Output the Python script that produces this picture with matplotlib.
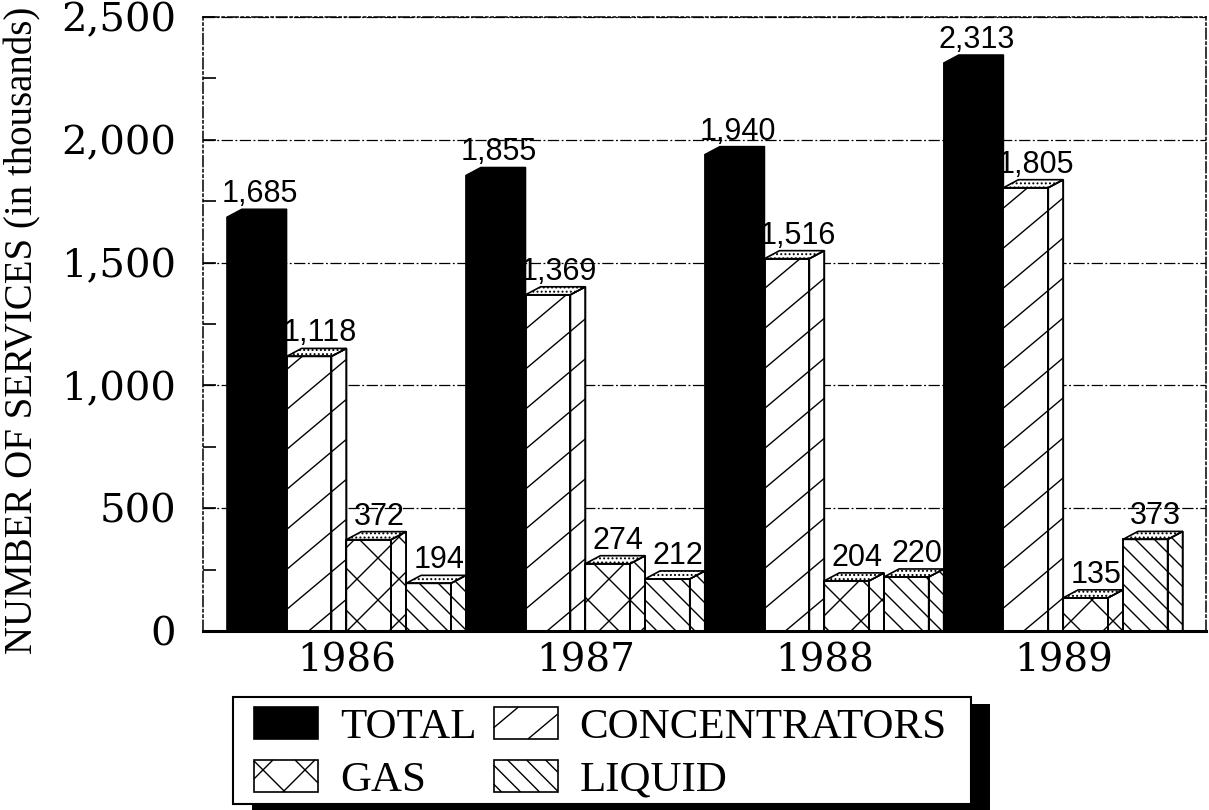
import numpy as np
import matplotlib
matplotlib.use("Agg")
import matplotlib.pyplot as plt
from matplotlib.patches import Polygon, Rectangle
from matplotlib.collections import LineCollection
from matplotlib.legend_handler import HandlerBase
from matplotlib.ticker import MultipleLocator, FuncFormatter
from matplotlib.transforms import IdentityTransform

# ---------------- data ----------------
years = ["1986", "1987", "1988", "1989"]
series_names = ["TOTAL", "CONCENTRATORS", "GAS", "LIQUID"]
total = [1685, 1855, 1940, 2313]
concentrators = [1118, 1369, 1516, 1805]
gas = [372, 274, 204, 135]
liquid = [194, 212, 220, 373]
series_values = [total, concentrators, gas, liquid]

# hatch specs: (angle in degrees, vertical spacing in px); None -> solid black
hatch_specs = [None, [(40, 40)], [(45, 42), (-45, 42)], [(-45, 19)]]

# ---------------- figure ----------------
W, H, DPI = 1209, 810, 100
fig = plt.figure(figsize=(W / DPI, H / DPI), dpi=DPI)
fig.patch.set_facecolor("white")
ax_l, ax_r, ax_t, ax_b = 203, 1206, 17, 631
ax = fig.add_axes([ax_l / W, 1 - ax_b / H, (ax_r - ax_l) / W, (ax_b - ax_t) / H])

n_groups, n_series = len(years), len(series_names)
ax.set_ylim(0, 2500)
ax.set_xlim(-0.40, n_groups * n_series + 0.39)

# pixel scales
p0 = ax.transData.transform((0, 0))
px_x = ax.transData.transform((1, 0))[0] - p0[0]
px_y = ax.transData.transform((0, 1))[1] - p0[1]
DX_PX, DY_PX = 15.0, 8.0
ddx, ddy = DX_PX / px_x, DY_PX / px_y
w = 1.0 - ddx  # front face width in data units

inv = ax.transData.inverted()


def hatch_segments_px(xmin, xmax, ymin, ymax, angle, vspace):
    a = np.deg2rad(angle)
    d = np.array([np.cos(a), np.sin(a)])
    nrm = np.array([-np.sin(a), np.cos(a)])
    perp = vspace * abs(np.cos(a))
    corners = np.array([[xmin, ymin], [xmax, ymin], [xmax, ymax], [xmin, ymax]])
    proj = corners @ nrm
    L = np.hypot(xmax - xmin, ymax - ymin) + 10
    c = corners.mean(axis=0)
    segs = []
    for k in range(int(np.floor(proj.min() / perp)) - 1, int(np.ceil(proj.max() / perp)) + 2):
        base = k * perp * nrm + (c @ d) * d
        segs.append([base - L * d, base + L * d])
    return segs


def add_face(verts, spec, top=False):
    face = Polygon(verts, closed=True, facecolor="white", edgecolor="black", lw=1.2,
                   zorder=2, hatch="...." if top else None)
    ax.add_patch(face)
    if spec:
        vpx = ax.transData.transform(np.array(verts))
        segs = []
        for ang, vs in spec:
            for s in hatch_segments_px(vpx[:, 0].min(), vpx[:, 0].max(),
                                       vpx[:, 1].min(), vpx[:, 1].max(), ang, vs):
                segs.append(inv.transform(np.array(s)))
        lc = LineCollection(segs, colors="black", linewidths=1.0, zorder=2.05)
        lc.set_clip_path(face)
        ax.add_collection(lc)
        ax.add_patch(Polygon(verts, closed=True, facecolor="none", edgecolor="black",
                             lw=1.2, zorder=2.1))


plt.rcParams["hatch.linewidth"] = 0.9

for gi in range(n_groups):
    for si in range(n_series):
        v = series_values[si][gi]
        x0 = gi * n_series + si
        x1 = x0 + w
        spec = hatch_specs[si]
        if spec is None:
            verts = [(x0, 0), (x0, v), (x0 + ddx, v + ddy), (x1 + ddx, v + ddy), (x1 + ddx, 0)]
            ax.add_patch(Polygon(verts, closed=True, facecolor="black", edgecolor="black",
                                 lw=1.0, zorder=2))
        else:
            add_face([(x0, 0), (x0, v), (x1, v), (x1, 0)], spec)
            add_face([(x1, 0), (x1, v), (x1 + ddx, v + ddy), (x1 + ddx, 0)], spec)
            add_face([(x0, v), (x0 + ddx, v + ddy), (x1 + ddx, v + ddy), (x1, v)], None, top=True)
        ax.annotate(f"{v:,}", xy=(x0 + 0.5, v), xytext=(3 * 0.72, (DY_PX + 7) * 0.72),
                    textcoords="offset points", ha="center", va="baseline",
                    fontsize=22, family="Liberation Sans", zorder=3)

# ---------------- axes styling ----------------
ax.yaxis.set_major_locator(MultipleLocator(500))
ax.yaxis.set_minor_locator(MultipleLocator(250))
ax.yaxis.set_major_formatter(FuncFormatter(lambda v, p: f"{int(v):,}"))
ax.tick_params(axis="y", which="both", direction="in", length=9, width=1.2, pad=19.5,
               labelsize=29)
for lab in ax.get_yticklabels():
    lab.set_family("DejaVu Serif")
ax.set_xticks([gi * n_series + n_series / 2 for gi in range(n_groups)])
ax.set_xticklabels(years, family="DejaVu Serif", fontsize=28)
ax.tick_params(axis="x", length=0, pad=8)

ax.grid(axis="y", which="major", color="black", linestyle=(0, (9, 2, 1.5, 2)), linewidth=0.9, zorder=0)
ax.set_axisbelow(True)
ax.spines["left"].set_linestyle((0, (7, 2, 1.5, 2, 1.5, 2)))
ax.spines["top"].set_linestyle((0, (7, 2, 1.5, 2, 1.5, 2)))
ax.spines["right"].set_linestyle((0, (7, 2, 1.5, 2)))
for s in ["left", "top", "right"]:
    ax.spines[s].set_linewidth(1.1)
ax.spines["bottom"].set_linewidth(2.2)

ax.set_ylabel("NUMBER OF SERVICES (in thousands)", family="Liberation Serif",
              fontsize=28, va="center")
ax.yaxis.set_label_coords((23 - ax_l) / (ax_r - ax_l), (ax_b - 330) / (ax_b - ax_t))


# ---------------- legend ----------------
def clip_seg(a, b, xmin, xmax, ymin, ymax):
    dx, dy = b[0] - a[0], b[1] - a[1]
    t0, t1 = 0.0, 1.0
    for p, q in ((-dx, a[0] - xmin), (dx, xmax - a[0]), (-dy, a[1] - ymin), (dy, ymax - a[1])):
        if p == 0:
            if q < 0:
                return None
        else:
            r = q / p
            if p < 0:
                t0 = max(t0, r)
            else:
                t1 = min(t1, r)
    if t0 > t1:
        return None
    return [(a[0] + t0 * dx, a[1] + t0 * dy), (a[0] + t1 * dx, a[1] + t1 * dy)]


LEAD_PX = 12  # blank lead-in before each legend key box


class HatchHandler(HandlerBase):
    def __init__(self, spec):
        super().__init__()
        self.spec = spec

    def create_artists(self, legend, orig_handle, xdescent, ydescent, width, height, fontsize, trans):
        lead = LEAD_PX * 0.72
        x0, y0 = -xdescent + lead, -ydescent
        wd = width - lead
        rect = Rectangle((x0, y0), wd, height,
                         facecolor="black" if self.spec is None else "white",
                         edgecolor="black", lw=1.2, transform=trans)
        arts = [rect]
        if self.spec:
            segs = []
            for ang, vs in self.spec:
                for s in hatch_segments_px(x0, x0 + wd, y0, y0 + height, ang, vs * 0.72):
                    c = clip_seg(s[0], s[1], x0, x0 + wd, y0, y0 + height)
                    if c is not None:
                        segs.append(c)
            arts.append(LineCollection(segs, colors="black", linewidths=1.0, transform=trans))
        return arts


handles = [Rectangle((0, 0), 1, 1) for _ in series_names]
order = [0, 2, 1, 3]  # column-wise fill -> rows: TOTAL, CONCENTRATORS / GAS, LIQUID
fs = 31
fs_px = fs * DPI / 72
leg = fig.legend([handles[i] for i in order], [series_names[i] for i in order],
                 handler_map={handles[i]: HatchHandler(hatch_specs[i]) for i in range(4)},
                 ncol=2, loc="upper left", bbox_to_anchor=(242 / W, 1 - 707 / H),
                 prop={"family": "Liberation Serif", "size": fs},
                 handlelength=(64 + LEAD_PX) / fs_px, handleheight=33 / fs_px,
                 handletextpad=22 / fs_px, columnspacing=5 / fs_px,
                 borderpad=0.0, labelspacing=0.3, borderaxespad=0, frameon=False)
leg.set_zorder(5)

fig.canvas.draw()
bb = leg.get_window_extent()
pad_l, pad_r, pad_t, pad_b = 9, 24, 10, 4
fx0, fy0 = bb.x0 - pad_l, bb.y0 - pad_b
fw, fh = bb.width + pad_l + pad_r, bb.height + pad_t + pad_b
# drop shadow, then frame
fig.patches.append(Rectangle((fx0 + 19, fy0 - 7), fw, fh, facecolor="black", edgecolor="none",
                             transform=IdentityTransform(), zorder=4.4, figure=fig))
fig.patches.append(Rectangle((fx0, fy0), fw, fh, facecolor="white", edgecolor="black", lw=1.5,
                             transform=IdentityTransform(), zorder=4.5, figure=fig))

fig.savefig("out.png", dpi=DPI, facecolor="white")
